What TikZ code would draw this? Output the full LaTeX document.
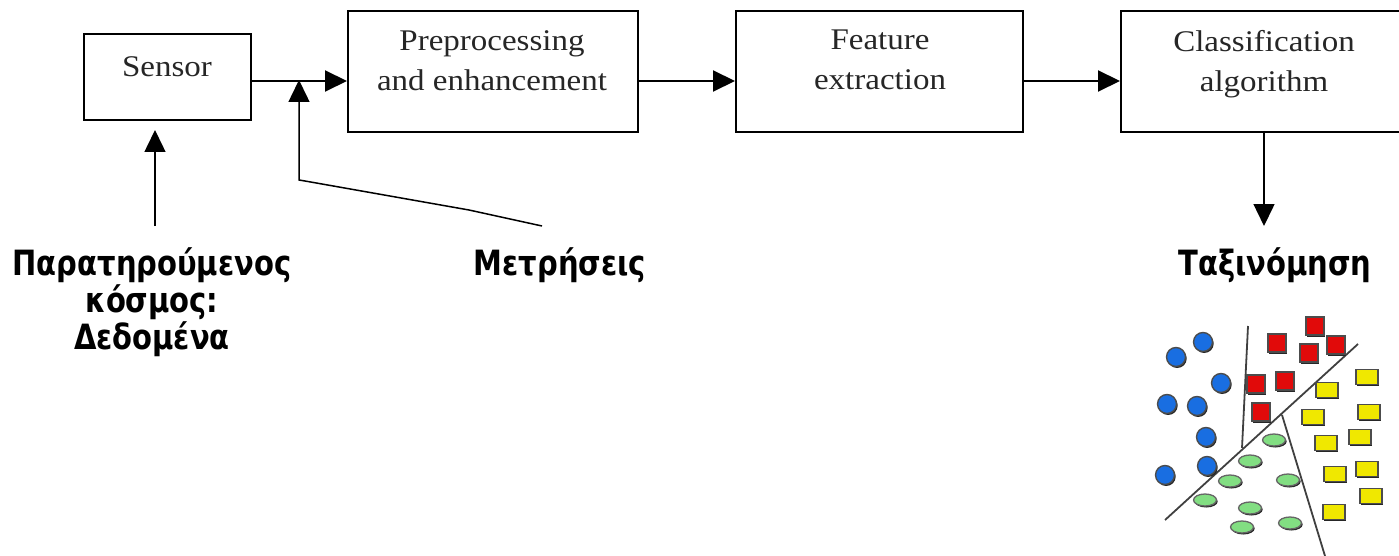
\documentclass[tikz,border=0pt]{standalone}
\usepackage{fontspec}
\setmainfont{Liberation Serif}
\newfontfamily\grk{DejaVu Sans}
\usetikzlibrary{arrows.meta,shapes.geometric,shadows}
\definecolor{cblue}{RGB}{25,110,225}
\definecolor{cred}{RGB}{225,10,10}
\definecolor{cyel}{RGB}{240,232,0}
\definecolor{cgrn}{RGB}{130,222,130}
\begin{document}
\begin{tikzpicture}[x=1pt,y=-1pt,
  blk/.style={draw,line width=2pt,inner sep=0pt,anchor=north west},
  btxt/.style={inner sep=0pt,anchor=north,align=center,font=\fontsize{30}{40}\selectfont,xscale=1.1,text=black!85},
  lab/.style={inner sep=0pt,anchor=north,align=center,font=\grk\bfseries\fontsize{29}{31}\selectfont,yscale=1.2},
  con/.style={line width=2pt,-{Triangle[length=22pt,width=21pt]}},
  vcon/.style={line width=1.5pt,-{Triangle[length=22pt,width=21pt]}},
  shd/.style={drop shadow={shadow xshift=1.2pt,shadow yshift=-1.5pt,fill=black!85,opacity=1}},
  dot/.style={shd,circle,fill=cblue,draw=black!70,line width=1.4pt,minimum size=19pt,inner sep=0pt},
  sq/.style={shd,rectangle,fill=cred,draw=black!70,line width=1.4pt,minimum size=18pt,inner sep=0pt},
  yr/.style={shd,rectangle,fill=cyel,draw=black!70,line width=1.4pt,minimum width=22pt,minimum height=15pt,inner sep=0pt},
  ge/.style={shd,ellipse,fill=cgrn,draw=black!60,line width=1.3pt,minimum width=23pt,minimum height=12pt,inner sep=0pt},
  sep/.style={line width=1.8pt,draw=black!75}]
\useasboundingbox (0,0) rectangle (1399,556);
\clip (0,0) rectangle (1399,556);
% boxes
\node[blk,minimum width=167pt,minimum height=86pt] (sensor) at (83,33) {};
\node[blk,minimum width=290pt,minimum height=121pt] (pre) at (347,10) {};
\node[blk,minimum width=287pt,minimum height=121pt] (feat) at (735,10) {};
\node[blk,minimum width=287pt,minimum height=121pt] (cls) at (1120,10) {};
\node[btxt] (sensorT) at (167,56) {Sensor};
\node[btxt] (preT) at (492,30) {Preprocessing\\and enhancement};
\node[btxt] (featT) at (880,30) {Feature\\extraction};
\node[btxt] (clsT) at (1264,30) {Classification\\algorithm};
% labels
\node[lab] (world) at (152,247) {Παρατηρούμενος\\κόσμος:\\Δεδομένα};
\node[lab] (meas) at (560,247) {Μετρήσεις};
\node[lab] (tax) at (1275,247) {Ταξινόμηση};
% connectors
\coordinate (j) at (299,81);
\coordinate (mb) at (299,180);
\coordinate (mh) at (305,181);
\coordinate (mm) at (469,210);
\coordinate (me) at (542,226);
\coordinate (wb) at (155,226);
\coordinate (ce) at (1264,226);
\draw[con] (sensor.east |- j) -- (pre.west |- j);
\draw[con] (pre.east |- j) -- (feat.west |- j);
\draw[con] (feat.east |- j) -- (cls.west |- j);
\draw[vcon] (me) -- (mm) -- (mh) -- (mb) -- ([yshift=1pt]j);
\draw[vcon] (wb) -- (155,130);
\draw[vcon] (1264,131) -- (ce);
% scatter separators
\draw[sep] (1248,326) -- (1242,448);
\draw[sep] (1358,344) -- (1165,520);
\draw[sep] (1282,415) -- (1325,556);
% blue
\foreach \p [count=\i] in {(1203,342),(1176,357),(1221,383),(1167,404),(1197,406),(1206,437),(1207,466),(1165,475)}
  \node[dot] (b\i) at \p {};
% red
\foreach \p [count=\i] in {(1315,326),(1277,343),(1309,353),(1336,345),(1256,384),(1285,381),(1261,412)}
  \node[sq] (r\i) at \p {};
% yellow
\foreach \p [count=\i] in {(1367,377),(1327,390),(1369,412),(1313,417),(1326,443),(1360,437),(1335,474),(1367,469),(1371,496),(1334,512)}
  \node[yr] (y\i) at \p {};
% green
\foreach \p [count=\i] in {(1274,440),(1250,461),(1230,481),(1288,480),(1205,500),(1250,508),(1242,527),(1290,523)}
  \node[ge] (g\i) at \p {};
\end{tikzpicture}
\end{document}
